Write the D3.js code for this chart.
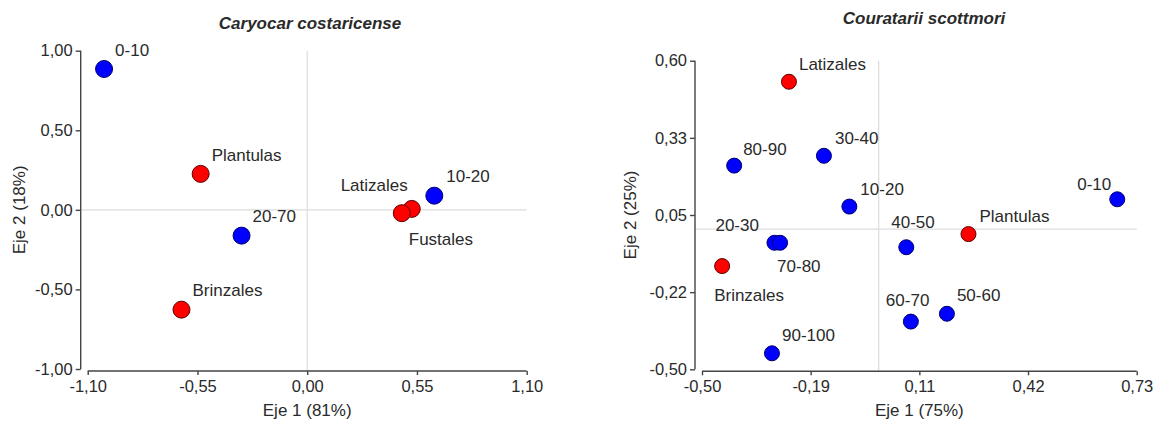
<!DOCTYPE html>
<html><head><meta charset="utf-8">
<script src="https://cdn.jsdelivr.net/npm/d3@7"></script>
<style>
html,body{margin:0;padding:0;background:#fff;}
svg text{font-family:"Liberation Sans",Arial,sans-serif;fill:#2a2a2a;}
</style></head>
<body>
<svg id="chart" width="1159" height="421"></svg>
<script>
// ---------- DATA: Caryocar costaricense ----------
const leftTitle = "Caryocar costaricense";
const leftCats = ["0-10","Plantulas","20-70","Brinzales","10-20","Latizales","Fustales"];
const leftX = [-1.018, -0.534, -0.329, -0.630, 0.637, 0.524, 0.474];
const leftY = [0.885, 0.226, -0.162, -0.627, 0.089, 0.006, -0.021];
const leftGroup = ["diam","stage","diam","stage","diam","stage","stage"];
const leftXTicks = [-1.10, -0.55, 0.00, 0.55, 1.10];
const leftXTickLabels = ["-1,10","-0,55","0,00","0,55","1,10"];
const leftYTicks = [-1.00, -0.50, 0.00, 0.50, 1.00];
const leftYTickLabels = ["-1,00","-0,50","0,00","0,50","1,00"];
const leftXTitle = "Eje 1 (81%)";
const leftYTitle = "Eje 2 (18%)";

// ---------- DATA: Couratarii scottmori ----------
const rightTitle = "Couratarii scottmori";
const rightCats = ["Latizales","80-90","30-40","10-20","0-10","Plantulas","40-50","20-30","70-80","Brinzales","60-70","50-60","90-100"];
const rightX = [-0.254, -0.409, -0.155, -0.083, 0.675, 0.254, 0.078, -0.295, -0.279, -0.443, 0.091, 0.193, -0.302];
const rightY = [0.525, 0.226, 0.261, 0.080, 0.106, -0.018, -0.065, -0.049, -0.049, -0.132, -0.330, -0.302, -0.443];
const rightGroup = ["stage","diam","diam","diam","diam","stage","diam","diam","diam","stage","diam","diam","diam"];
const rightXTicks = [-0.50, -0.1925, 0.115, 0.4225, 0.73];
const rightXTickLabels = ["-0,50","-0,19","0,11","0,42","0,73"];
const rightYTicks = [-0.50, -0.225, 0.05, 0.325, 0.60];
const rightYTickLabels = ["-0,50","-0,22","0,05","0,33","0,60"];
const rightXTitle = "Eje 1 (75%)";
const rightYTitle = "Eje 2 (25%)";

// ---------- LAYOUT (label nudges in px, not data) ----------
const leftLabelNudge = [[11,-13,"start"],[11,-13,"start"],[11,-14,"start"],[11,-14,"start"],[12,-14,"start"],[-4,-18,"end"],[7,32,"start"]];
const rightLabelNudge = [[10,-12,"start"],[9,-11,"start"],[11,-12,"start"],[11,-12,"start"],[-6,-9,"end"],[11,-12,"start"],[-15,-19,"start"],[-59,-12,"start"],[-3,29,"start"],[-8,35,"start"],[-25,-16,"start"],[10,-13,"start"],[10,-12,"start"]];

const colors = {diam:"#0000ff", stage:"#ff0000"};
const strokes = {diam:"#00006a", stage:"#5a0000"};

const svg = d3.select("#chart");
svg.append("rect").attr("width",1159).attr("height",421).attr("fill","#fff");

function panel(cfg){
  const g = svg.append("g");
  const x = d3.scaleLinear().domain(cfg.xDomain).range(cfg.xRange);
  const y = d3.scaleLinear().domain(cfg.yDomain).range(cfg.yRange);
  const yAxisX = cfg.xRange[0] - 7;
  const xAxisY = cfg.yRange[0] + 2;

  // reference lines at 0
  g.append("line").attr("x1",x(0)).attr("x2",x(0)).attr("y1",cfg.yRange[1]).attr("y2",xAxisY)
    .attr("stroke","#dcdcdc").attr("stroke-width",1.2);
  g.append("line").attr("x1",yAxisX).attr("x2",cfg.xRange[1]).attr("y1",y(0)).attr("y2",y(0))
    .attr("stroke","#dcdcdc").attr("stroke-width",1.2);

  // x axis
  const xa = g.append("g").attr("transform",`translate(0,${xAxisY})`)
    .call(d3.axisBottom(x).tickValues(cfg.xTicks).tickSize(4).tickPadding(5)
      .tickFormat((d,i)=>cfg.xTickLabels[i]));
  // y axis
  const ya = g.append("g").attr("transform",`translate(${yAxisX},0)`)
    .call(d3.axisLeft(y).tickValues(cfg.yTicks).tickSize(5).tickPadding(3)
      .tickFormat((d,i)=>cfg.yTickLabels[i]));
  [xa,ya].forEach(a=>{
    a.select(".domain").attr("stroke","#444").attr("stroke-width",1.4)
      .attr("d", a===xa ? `M${cfg.xRange[0]},0H${cfg.xRange[1]}` : `M0,${cfg.yRange[0]}V${cfg.yRange[1]}`);
    a.selectAll(".tick line").attr("stroke","#444").attr("stroke-width",1.4);
    a.selectAll(".tick text").attr("font-size",16.5).attr("fill","#2a2a2a")
      .style("font-family","'Liberation Sans',Arial,sans-serif");
  });

  // titles
  g.append("text").attr("x",cfg.titleX).attr("y",cfg.titleY).attr("text-anchor","middle")
    .attr("font-size",17).attr("font-weight","bold").attr("font-style","italic").attr("fill","#111")
    .text(cfg.title);
  g.append("text").attr("x",(cfg.xRange[0]+cfg.xRange[1])/2).attr("y",416).attr("text-anchor","middle")
    .attr("font-size",17).text(cfg.xTitle);
  g.append("text").attr("transform",`translate(${cfg.yTitleX},${(cfg.yRange[0]+cfg.yRange[1])/2}) rotate(-90)`)
    .attr("text-anchor","middle").attr("font-size",17).text(cfg.yTitle);

  // points
  const data = cfg.cats.map((c,i)=>({c, x:cfg.xs[i], y:cfg.ys[i], g:cfg.groups[i], n:cfg.nudge[i]}));
  g.selectAll("circle.pt").data(data).enter().append("circle").attr("class","pt")
    .attr("cx",d=>x(d.x)).attr("cy",d=>y(d.y)).attr("r",cfg.r)
    .attr("fill",d=>colors[d.g]).attr("stroke",d=>strokes[d.g]).attr("stroke-width",1);
  g.selectAll("text.lbl").data(data).enter().append("text").attr("class","lbl")
    .attr("x",d=>x(d.x)+d.n[0]).attr("y",d=>y(d.y)+d.n[1]).attr("text-anchor",d=>d.n[2])
    .attr("font-size",17).text(d=>d.c);
}

panel({
  title:leftTitle, titleX:310, titleY:29,
  xDomain:[-1.1,1.1], xRange:[87.7,526.7], yDomain:[-1,1], yRange:[369,50.7],
  xTicks:leftXTicks, xTickLabels:leftXTickLabels, yTicks:leftYTicks, yTickLabels:leftYTickLabels,
  xTitle:leftXTitle, yTitle:leftYTitle, yTitleX:25,
  cats:leftCats, xs:leftX, ys:leftY, groups:leftGroup, nudge:leftLabelNudge, r:8.5
});
panel({
  title:rightTitle, titleX:924, titleY:24,
  xDomain:[-0.5,0.73], xRange:[702,1136.7], yDomain:[-0.5,0.6], yRange:[369.3,60.7],
  xTicks:rightXTicks, xTickLabels:rightXTickLabels, yTicks:rightYTicks, yTickLabels:rightYTickLabels,
  xTitle:rightXTitle, yTitle:rightYTitle, yTitleX:636,
  cats:rightCats, xs:rightX, ys:rightY, groups:rightGroup, nudge:rightLabelNudge, r:7.5
});
</script>
</body></html>
